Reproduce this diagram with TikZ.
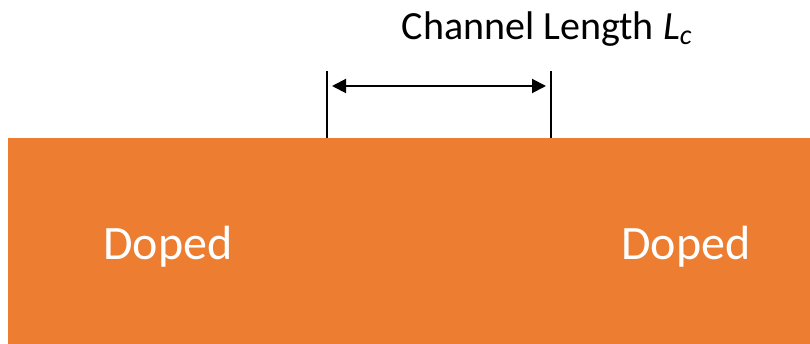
\documentclass[tikz,border=0pt]{standalone}
\usepackage{fontspec}
\setmainfont{Carlito}
\usetikzlibrary{arrows.meta}
\definecolor{doporange}{HTML}{ED7D31}
\begin{document}
\begin{tikzpicture}[x=1pt,y=-1pt,
  dopedtext/.style={text=white,font=\fontsize{48}{56}\selectfont,inner sep=0pt,anchor=base},
  labeltext/.style={text=black,font=\fontsize{40}{48}\selectfont,inner sep=0pt,anchor=base},
  marker/.style={line width=2pt},
  dim/.style={line width=2pt,{Triangle[length=14pt,width=14pt]}-{Triangle[length=14pt,width=14pt]}}]
\useasboundingbox (0,0) rectangle (810,344);
\fill[doporange] (8,138) rectangle (810,344);
\node[dopedtext] (dl) at (168,260) {Doped};
\node[dopedtext] (dr) at (686,260) {Doped};
\coordinate (lt) at (327,71);
\coordinate (lb) at (327,138);
\coordinate (rt) at (551,71);
\coordinate (rb) at (551,138);
\draw[marker] (lt) -- (lb);
\draw[marker] (rt) -- (rb);
\coordinate (al) at (332,86);
\coordinate (ar) at (546,86);
\draw[dim] (al) -- (ar);
\node[labeltext] (lab) at (547,40) {Channel Length \textit{L\textsubscript{c}}};
\end{tikzpicture}
\end{document}
